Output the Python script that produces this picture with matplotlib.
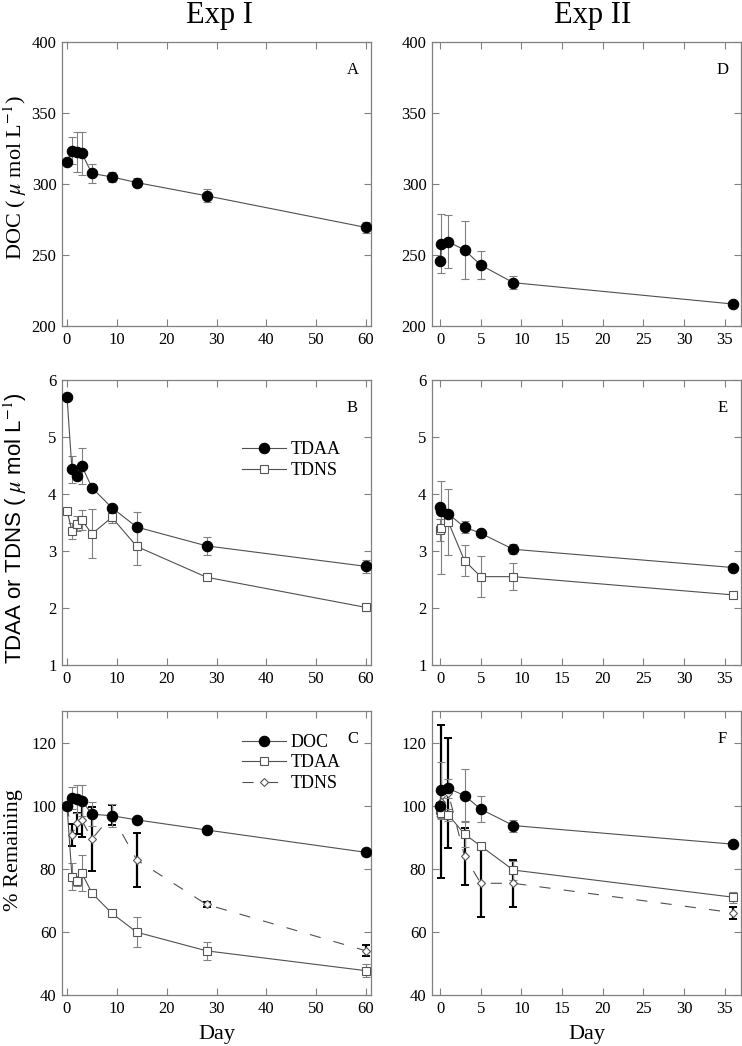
import numpy as np
import matplotlib
matplotlib.use('agg')
import matplotlib.pyplot as plt

plt.rcParams['font.family'] = ['Liberation Serif', 'DejaVu Serif']
plt.rcParams['mathtext.fontset'] = 'stix'

# ---- data ----
day1 = [0, 1, 2, 3, 5, 9, 14, 28, 60]
day2 = [0, 0.1, 1, 3, 5, 9, 36]

doc1 = [315.8, 323.3, 322.6, 321.5, 307.4, 305.0, 301.0, 291.7, 269.4]
doc1_err = [1, 9.5, 13.8, 15.4, 7, 3.7, 3, 4.7, 4]
doc2 = [245.8, 257.9, 259.4, 253.5, 242.9, 230.5, 215.5]
doc2_err = [2, 20.8, 18.6, 20.6, 9.7, 4.5, 1.5]

tdaa1 = [5.71, 4.43, 4.32, 4.49, 4.11, 3.76, 3.42, 3.09, 2.73]
tdaa1_err = [0.05, 0.23, 0.06, 0.32, 0.06, 0.05, 0.27, 0.16, 0.12]
tdns1 = [3.71, 3.35, 3.48, 3.54, 3.30, 3.59, 3.08, 2.54, 2.01]
tdns1_err = [0.04, 0.14, 0.13, 0.18, 0.43, 0.10, 0.33, 0.03, 0.06]
tdaa2 = [3.77, 3.71, 3.65, 3.42, 3.31, 3.03, 2.71]
tdaa2_err = [0.05, 0.05, 0.06, 0.11, 0.04, 0.09, 0.03]
tdns2 = [3.37, 3.41, 3.51, 2.83, 2.55, 2.55, 2.23]
tdns2_err = [0.2, 0.81, 0.58, 0.27, 0.36, 0.24, 0.05]

pdoc1 = [100, 102.4, 102.1, 101.6, 97.3, 96.8, 95.5, 92.3, 85.2]
pdoc1_err = [0, 3.5, 4.5, 5, 3.8, 3.7, 1, 1.2, 1]
ptdaa1 = [100, 77.5, 76.2, 78.6, 72.3, 65.9, 59.9, 54.0, 47.7]
ptdaa1_err = [0, 4.2, 1.5, 5.7, 1, 0.5, 4.8, 2.9, 2]
ptdns1 = [100, 90.7, 94.4, 95.3, 89.4, 97.0, 82.8, 68.7, 54.0]
ptdns1_err = [0, 3.4, 3.3, 5.2, 10.2, 3.2, 8.6, 0.8, 1.7]

pdoc2 = [100, 105, 105.5, 103.2, 98.9, 93.7, 87.8]
pdoc2_err = [1, 8.8, 3, 8.5, 4.2, 1.9, 0.8]
ptdaa2 = [98.7, 97.8, 97.1, 91.0, 87.2, 79.6, 71.0]
ptdaa2_err = [2, 2, 2, 4, 1, 3, 1.7]
ptdns2 = [100, 101.3, 104, 84, 75.4, 75.4, 66.1]
ptdns2_err = [1, 24.2, 17.3, 9, 10.8, 7.4, 1.9]

LC = '#505050'
GR = '#808080'

fig = plt.figure(figsize=(7.42, 10.46), dpi=100)
fig.set_facecolor('white')

lefts = [62/742, 432/742]
w = 309/742
rows = [(1 - 326/1046, 284/1046), (1 - 665/1046, 285/1046), (1 - 995/1046, 284/1046)]

axes = {}
for r, (b, h) in enumerate(rows):
    for c, l in enumerate(lefts):
        axes[(r, c)] = fig.add_axes([l, b, w, h])


def series(ax, x, y, e, marker, ms, face, ls='-', label=None, thick=False):
    if thick:
        ax.errorbar(x, y, yerr=e, fmt='none', ecolor='k', elinewidth=1.6,
                    capsize=3, capthick=1.4, zorder=2)
    else:
        ax.errorbar(x, y, yerr=e, fmt='none', ecolor=GR, elinewidth=0.8,
                    capsize=3, capthick=0.8, zorder=2)
    ec = 'k' if face == 'k' else '#555555'
    ax.plot(x, y, color=LC, lw=0.8, ls=ls, marker=marker, ms=ms,
            mfc=face, mec=ec, mew=0.8, label=label, zorder=3)


# row A / D: DOC
series(axes[(0, 0)], day1, doc1, doc1_err, 'o', 7.5, 'k')
series(axes[(0, 1)], day2, doc2, doc2_err, 'o', 7.5, 'k')

# row B / E
series(axes[(1, 0)], day1, tdns1, tdns1_err, 's', 6, 'white', label='TDNS')
series(axes[(1, 0)], day1, tdaa1, tdaa1_err, 'o', 7.5, 'k', label='TDAA')
series(axes[(1, 1)], day2, tdns2, tdns2_err, 's', 6, 'white')
series(axes[(1, 1)], day2, tdaa2, tdaa2_err, 'o', 7.5, 'k')

# row C / F
dash = (0, (10, 12))
series(axes[(2, 0)], day1, ptdns1, ptdns1_err, 'D', 4.5, 'white', ls=dash, label='TDNS', thick=True)
series(axes[(2, 0)], day1, ptdaa1, ptdaa1_err, 's', 6, 'white', label='TDAA')
series(axes[(2, 0)], day1, pdoc1, pdoc1_err, 'o', 7.5, 'k', label='DOC')
series(axes[(2, 1)], day2, ptdns2, ptdns2_err, 'D', 4.5, 'white', ls=dash, thick=True)
series(axes[(2, 1)], day2, ptdaa2, ptdaa2_err, 's', 6, 'white')
series(axes[(2, 1)], day2, pdoc2, pdoc2_err, 'o', 7.5, 'k')

ylims = [(200, 400), (1, 6), (40, 130)]
yticks = [np.arange(200, 401, 50), np.arange(1, 7, 1), np.arange(40, 121, 20)]
letters = [['A', 'D'], ['B', 'E'], ['C', 'F']]
for (r, c), ax in axes.items():
    if c == 0:
        ax.set_xlim(-1, 61)
        ax.set_xticks(np.arange(0, 61, 10))
    else:
        ax.set_xlim(-1, 37)
        ax.set_xticks(np.arange(0, 36, 5))
    ax.set_ylim(*ylims[r])
    ax.set_yticks(yticks[r])
    ax.tick_params(direction='in', top=True, right=True, length=5, width=0.8,
                   color=GR, labelsize=12, pad=4)
    for s in ax.spines.values():
        s.set_color(GR)
        s.set_linewidth(0.9)
    ax.text(0.94, 0.90, letters[r][c], transform=ax.transAxes, fontsize=12,
            ha='center', va='center')

# legends
hB, lB = axes[(1, 0)].get_legend_handles_labels()
axes[(1, 0)].legend([hB[1], hB[0]], [lB[1], lB[0]], loc='upper left',
                    bbox_to_anchor=(0.56, 0.81), frameon=False, fontsize=13,
                    handlelength=2.4, labelspacing=0.2, handletextpad=0.3,
                    borderaxespad=0)
hC, lC = axes[(2, 0)].get_legend_handles_labels()
axes[(2, 0)].legend([hC[2], hC[1], hC[0]], [lC[2], lC[1], lC[0]], loc='upper left',
                    bbox_to_anchor=(0.56, 0.945), frameon=False, fontsize=13,
                    handlelength=2.4, labelspacing=0.2, handletextpad=0.3,
                    borderaxespad=0)

# titles and axis labels
fig.text(0.296, 0.985, 'Exp I', fontsize=22, ha='center', va='center')
fig.text(0.799, 0.985, 'Exp II', fontsize=22, ha='center', va='center')
fig.text(0.292, 0.011, 'Day', fontsize=16, ha='center', va='center')
fig.text(0.791, 0.011, 'Day', fontsize=16, ha='center', va='center')
fig.text(0.020, 0.830, r'DOC ( $\mu$ mol L$^{-1}$)', fontsize=16, rotation=90,
         ha='center', va='center')
fig.text(0.020, 0.495, r'TDAA or TDNS ( $\mu$ mol L$^{-1}$)', fontsize=16, rotation=90,
         ha='center', va='center', family=['Liberation Sans', 'DejaVu Sans'])
fig.text(0.018, 0.187, '% Remaining', fontsize=16, rotation=90,
         ha='center', va='center')

plt.savefig('out.png', dpi=100)
